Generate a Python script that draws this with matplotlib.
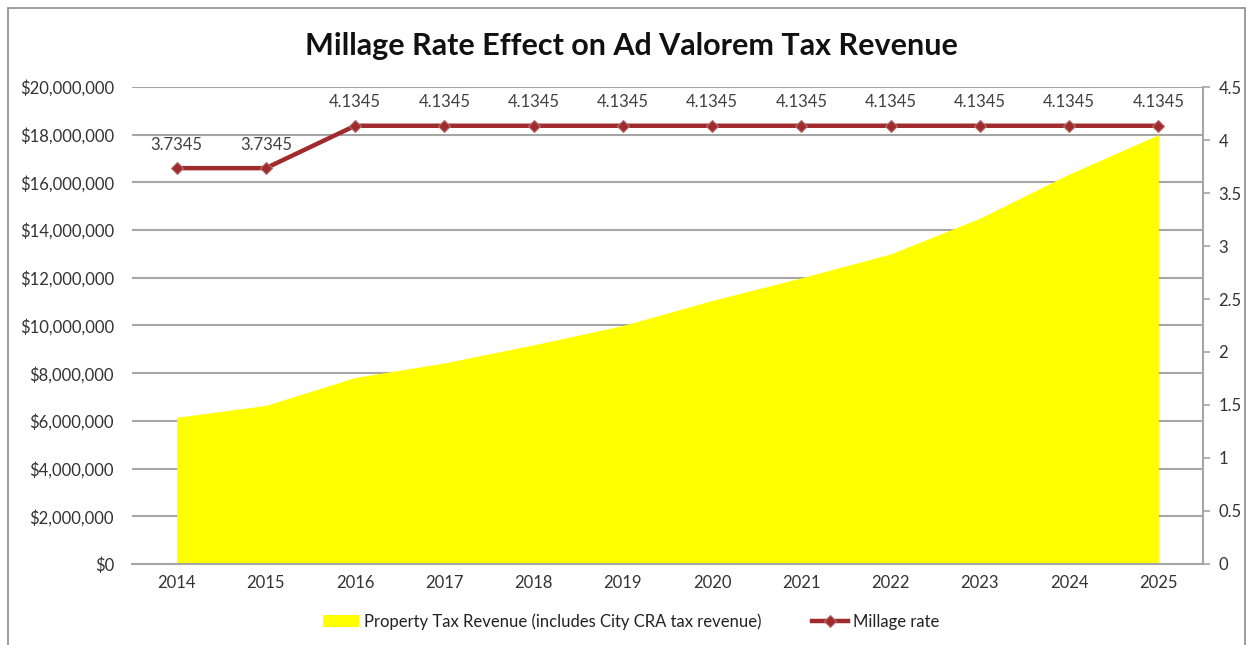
import matplotlib
matplotlib.use("Agg")
import matplotlib.pyplot as plt
from matplotlib.patches import Rectangle
from matplotlib.ticker import FuncFormatter, MultipleLocator

years = [2014, 2015, 2016, 2017, 2018, 2019, 2020, 2021, 2022, 2023, 2024, 2025]
revenue = [6150000, 6650000, 7820000, 8430000, 9190000, 10000000,
           11050000, 12000000, 13000000, 14500000, 16350000, 18000000]
millage = [3.7345, 3.7345, 4.1345, 4.1345, 4.1345, 4.1345,
           4.1345, 4.1345, 4.1345, 4.1345, 4.1345, 4.1345]
title = "Millage Rate Effect on Ad Valorem Tax Revenue"
area_label = "Property Tax Revenue (includes City CRA tax revenue)"
line_label = "Millage rate"

plt.rcParams['font.family'] = ['Lato', 'DejaVu Sans']

fig = plt.figure(figsize=(12.5, 6.45), dpi=100)
fig.patches.append(Rectangle((0.006, -0.02), 0.99, 1.007, transform=fig.transFigure,
                             fill=False, edgecolor='#8c8c8c', linewidth=1.2))

ax = fig.add_axes([0.1056, 0.1256, 0.8568, 0.7395])
x = list(range(len(years)))
ax.fill_between(x, revenue, 0, color='#FFFF00', linewidth=0, zorder=2, label=area_label)
ax.set_xlim(-0.5, len(years) - 0.5)
ax.set_ylim(0, 20000000)
ax.yaxis.set_major_locator(MultipleLocator(2000000))
ax.yaxis.set_major_formatter(FuncFormatter(lambda v, p: "${:,.0f}".format(v)))
ax.grid(axis='y', color='#a6a6a6', linewidth=1.5, zorder=1)
ax.set_axisbelow(True)
ax.set_xticks(x)
ax.set_xticklabels([str(y) for y in years])
for s in ['top', 'left', 'right']:
    ax.spines[s].set_visible(False)
ax.spines['bottom'].set_color('#a6a6a6')
ax.spines['bottom'].set_linewidth(1.5)
ax.tick_params(axis='x', length=0, pad=8, labelsize=12, labelcolor='#333333')
ax.tick_params(axis='y', length=0, pad=13, labelsize=12, labelcolor='#333333')

ax2 = ax.twinx()
ax2.plot(x, millage, color='#a12a2c', linewidth=3.2, marker='D', markersize=6,
         markerfacecolor='#a12a2c', markeredgecolor='#b07070', markeredgewidth=0.8,
         zorder=5, label=line_label)
ax2.set_ylim(0, 4.5)
ax2.yaxis.set_major_locator(MultipleLocator(0.5))
ax2.yaxis.set_major_formatter(FuncFormatter(lambda v, p: "{:g}".format(v)))
for s in ['top', 'left', 'bottom']:
    ax2.spines[s].set_visible(False)
ax2.spines['right'].set_color('#a6a6a6')
ax2.spines['right'].set_linewidth(1.5)
ax2.tick_params(axis='y', length=5, width=1.2, color='#a6a6a6', pad=6,
                labelsize=12, labelcolor='#333333')
for xi, m in zip(x, millage):
    ax2.annotate("{:.4f}".format(m), (xi, m), xytext=(0, 17), textcoords='offset points',
                 ha='center', va='center', fontsize=12, color='#404040')

fig.text(0.505, 0.928, title, ha='center', va='center', fontsize=22,
         fontweight='bold', color='#111111')

h1, l1 = ax.get_legend_handles_labels()
h2, l2 = ax2.get_legend_handles_labels()
fig.legend(h1 + h2, l1 + l2, loc='center', bbox_to_anchor=(0.505, 0.036), ncol=2,
           frameon=False, fontsize=12, handlelength=2.2, columnspacing=3.0,
           handletextpad=0.3, labelcolor='#222222')

fig.savefig("out.png", dpi=100)
